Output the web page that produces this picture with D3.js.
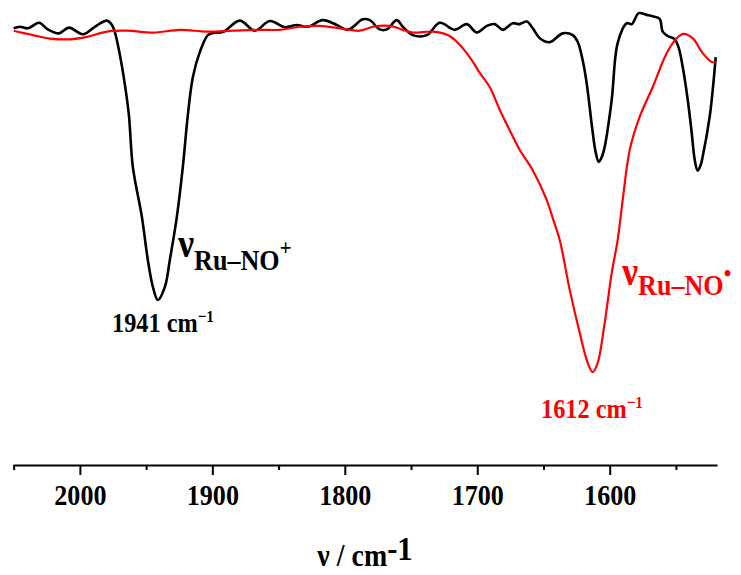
<!DOCTYPE html>
<html>
<head>
<meta charset="utf-8">
<script src="https://cdn.jsdelivr.net/npm/d3@7"></script>
<style>
  html, body { margin: 0; padding: 0; background: #fff; }
  svg { display: block; }
  text { font-family: "Liberation Serif", "Times New Roman", serif; font-weight: bold; }
</style>
</head>
<body>
<div id="chart"></div>
<script>
// ---- data (wavenumber in cm-1, transmittance in arbitrary %) ----
const wnBlack = [2050,2045.3,2039.2,2030.9,2024.2,2015.8,2008.3,1997.7,1988.7,1979.6,1975.8,1973.6,1969.8,1966.0,1963.0,1960.0,1953.2,1948.7,1944.9,1941.1,1935.8,1932.1,1926.8,1922.3,1918.5,1914.7,1909.4,1903.4,1899.6,1892.1,1879.2,1867.9,1856.6,1845.3,1836.2,1828.0,1816.6,1806.0,1797.7,1786.4,1781.1,1773.6,1768.3,1760.8,1756.2,1748.7,1738.1,1728.3,1717.0,1707.9,1700.4,1692.8,1686.8,1680.8,1673.2,1667.9,1662.6,1658.1,1652.8,1645.3,1635.5,1627.9,1624.2,1620.4,1617.4,1612.8,1610.6,1608.3,1606.0,1603.8,1598.5,1594.0,1587.2,1583.4,1578.1,1572.1,1567.6,1562.3,1560.0,1556.2,1550.9,1547.9,1544.9,1541.1,1538.1,1535.8,1533.6,1531.3,1529.8,1524.5,1521.5,1520.0];
const tBlack  = [99.25,99.6,99.25,100.5,99.0,98.1,99.4,97.9,99.6,101.0,100.0,98.4,93.2,86.4,79.5,67.7,56.4,46.6,40.5,37.5,40.5,46.6,56.4,67.7,79.5,88.2,93.9,97.7,98.2,98.4,101.0,98.7,100.9,99.5,100.0,99.6,101.1,100.0,98.9,101.3,101.1,99.0,99.0,101.1,99.6,97.7,97.7,100.5,98.9,100.2,98.3,99.8,100.2,98.9,100.4,100.2,100.8,99.25,97.0,96.1,98.1,97.7,96.2,92.0,86.8,75.5,71.1,68.9,70.0,72.3,83.0,95.9,100.4,100.2,102.7,102.3,102.0,101.4,98.5,97.5,96.75,94.8,90.5,83.0,75.5,69.3,66.9,68.2,70.1,79.2,87.5,92.7];

const wnRed = [2050,2035.5,2022.6,2007.5,1994.7,1979.6,1964.5,1944.9,1924.5,1904.2,1884.5,1864.2,1849.1,1834.0,1818.9,1803.8,1788.7,1778.9,1766.0,1756.2,1748.7,1733.6,1722.3,1715.5,1705.7,1698.1,1690.6,1683.0,1675.5,1667.9,1658.1,1647.5,1643.0,1637.7,1630.2,1622.6,1616.6,1612.8,1609.1,1603.8,1598.5,1594.0,1590.2,1584.9,1577.4,1567.5,1557.0,1549.4,1544.2,1537.4,1529.8,1523.0,1520.0];
const tRed  = [98.7,97.7,96.9,96.75,97.3,98.5,98.7,98.25,98.9,98.5,98.7,98.9,98.9,99.6,99.8,99.25,98.7,99.6,99.8,98.9,98.3,98.5,97.7,96.2,92.7,89.1,85.9,80.7,76.1,71.6,67.0,60.2,56.1,51.1,39.8,30.0,23.2,21.1,23.2,32.3,43.6,51.1,60.2,71.6,79.1,85.9,93.6,97.0,98.0,97.0,93.6,91.6,91.6];

const majorTicks = [2000, 1900, 1800, 1700, 1600];
const minorTicks = [2050, 1950, 1850, 1750, 1650, 1550];

const W = 741, H = 575;
const svg = d3.select("#chart").append("svg").attr("width", W).attr("height", H);
svg.append("rect").attr("width", W).attr("height", H).attr("fill", "#fff");

const x = d3.scaleLinear().domain([2050.5, 1519]).range([13, 717]);
const y = d3.scaleLinear().domain([0, 100]).range([465, 25]);

const line = d3.line().x(d => x(d[0])).y(d => y(d[1])).curve(d3.curveCatmullRom.alpha(0.5));

const blackData = wnBlack.map((w, i) => [w, tBlack[i]]);
const redData = wnRed.map((w, i) => [w, tRed[i]]);

svg.append("path").datum(blackData).attr("d", line)
  .attr("fill", "none").attr("stroke", "#000").attr("stroke-width", 2.6).attr("stroke-linejoin", "round");
svg.append("path").datum(redData).attr("d", line)
  .attr("fill", "none").attr("stroke", "#ff0000").attr("stroke-width", 2.2).attr("stroke-linejoin", "round");

// ---- axis ----
const axisY = 465;
const gMinor = svg.append("g").attr("transform", `translate(0,${axisY})`)
  .call(d3.axisBottom(x).tickValues(minorTicks).tickSize(5).tickSizeOuter(0).tickFormat(""));
gMinor.select(".domain").remove();
gMinor.selectAll("line").attr("stroke-width", 2);

const gAxis = svg.append("g").attr("transform", `translate(0,${axisY})`)
  .call(d3.axisBottom(x).tickValues(majorTicks).tickSize(10).tickSizeOuter(0).tickFormat(d3.format("d")));
gAxis.select(".domain").attr("stroke-width", 2);
gAxis.selectAll(".tick line").attr("stroke-width", 2);
gAxis.selectAll(".tick text")
  .attr("y", 40).attr("dy", null)
  .attr("font-size", 29).attr("font-family", "'Liberation Serif', 'Times New Roman', serif")
  .attr("font-weight", "bold").attr("fill", "#000")
  .attr("transform", "scale(0.9,1)");

// ---- text helper ----
function label(px, py, color, parts, anchor) {
  const g = svg.append("g").attr("transform", `translate(${px},${py}) scale(0.9,1)`);
  const t = g.append("text").attr("x", 0).attr("y", 0).attr("fill", color)
    .attr("text-anchor", anchor || "start");
  parts.forEach(p => {
    t.append("tspan").attr("font-size", p.size).attr("dy", p.dy || 0).text(p.text);
  });
  return t;
}

// axis title
label(365, 566, "#000", [
  { text: "ν / cm", size: 31 },
  { text: "-1", size: 34, dy: -6 }
], "middle");

// black peak annotation
label(178, 257, "#000", [
  { text: "ν", size: 40 },
  { text: "Ru–NO", size: 29, dy: 13 },
  { text: "+", size: 23, dy: -15 }
]);
label(112, 332, "#000", [
  { text: "1941 cm", size: 27 },
  { text: "−1", size: 17, dy: -10 }
]);

// red peak annotation
label(622, 285, "#ff0000", [
  { text: "ν", size: 40 },
  { text: "Ru–NO", size: 29, dy: 10 },
  { text: "•", size: 24, dy: -14 }
]);
label(541, 418, "#ff0000", [
  { text: "1612 cm", size: 27 },
  { text: "−1", size: 17, dy: -10 }
]);
</script>
</body>
</html>
